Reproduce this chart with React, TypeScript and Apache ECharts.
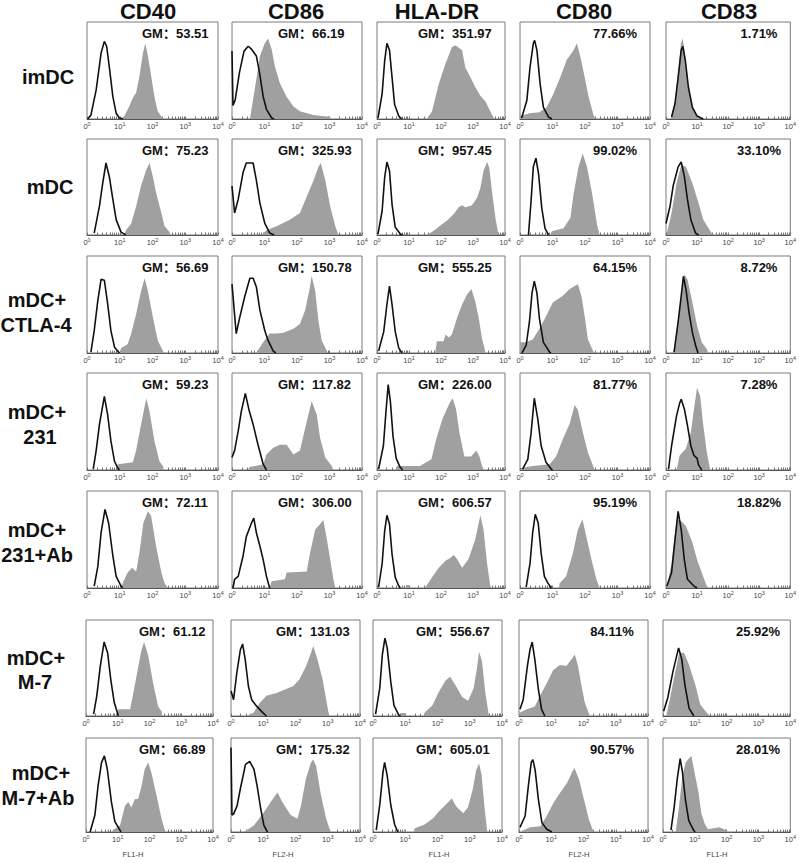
import React, { useEffect, useRef } from "react";
import * as echarts from "echarts";

// ---------- labels / values ----------
const markers = ["CD40", "CD86", "HLA-DR", "CD80", "CD83"];
const axisNames = ["FL1-H", "FL2-H", "FL1-H", "FL2-H", "FL1-H"];
const groupLabels = [
  ["imDC"],
  ["mDC"],
  ["mDC+", "CTLA-4"],
  ["mDC+", "231"],
  ["mDC+", "231+Ab"],
  ["mDC+", "M-7"],
  ["mDC+", "M-7+Ab"],
];
const tickBase = ["0", "10", "10", "10", "10"];
const tickExp = ["0", "1", "2", "3", "4"];

const gmCD40 = [53.51, 75.23, 56.69, 59.23, 72.11, 61.12, 66.89];
const gmCD86 = [66.19, 325.93, 150.78, 117.82, 306.0, 131.03, 175.32];
const gmHLADR = [351.97, 957.45, 555.25, 226.0, 606.57, 556.67, 605.01];
const pctCD80 = [77.66, 99.02, 64.15, 81.77, 95.19, 84.11, 90.57];
const pctCD83 = [1.71, 33.1, 8.72, 7.28, 18.82, 25.92, 28.01];

// ---------- histograms: [log10 intensity, % of panel height] ----------
// imDC
const imDC_CD40_iso = [[0.02,0],[0.12,4],[0.28,30],[0.43,68],[0.53,80],[0.6,75],[0.68,54],[0.79,23],[0.89,6],[0.99,1],[1.1,0]];
const imDC_CD40_fill = [[1.04,0],[1.14,3],[1.29,13],[1.4,22],[1.5,27],[1.6,44],[1.71,68],[1.78,78],[1.86,65],[1.96,44],[2.06,23],[2.16,8],[2.3,1],[2.32,0]];
const imDC_CD86_iso = [[0,70],[0.03,14],[0.1,20],[0.23,48],[0.37,70],[0.5,75],[0.6,72],[0.75,65],[0.85,47],[0.96,23],[1.06,10],[1.22,1],[1.3,0]];
const imDC_CD86_fill = [[0.55,0],[0.65,20],[0.86,65],[1.01,78],[1.11,83],[1.22,72],[1.32,54],[1.47,37],[1.68,23],[1.89,13],[2.09,8],[2.5,4],[3.02,2],[3.04,0]];
const imDC_HLA_iso = [[0.03,1],[0.16,26],[0.24,60],[0.31,78],[0.39,71],[0.47,43],[0.55,15],[0.68,3],[0.78,0]];
const imDC_HLA_fill = [[1.56,0],[1.72,8],[1.93,36],[2.14,57],[2.34,74],[2.45,76],[2.66,71],[2.76,53],[2.92,43],[3.07,33],[3.23,24],[3.39,18],[3.54,8],[3.65,1],[3.67,0]];
const imDC_CD80_iso = [[0.05,1],[0.21,19],[0.31,54],[0.41,78],[0.45,81],[0.52,71],[0.62,36],[0.72,12],[0.88,2],[0.98,0]];
const imDC_CD80_fill = [[0,3],[0.3,6],[0.6,7],[0.82,12],[1.03,26],[1.24,43],[1.44,61],[1.65,71],[1.75,78],[1.86,64],[2.01,40],[2.11,23],[2.27,3],[2.35,0]];
const imDC_CD83_iso = [[0.18,2],[0.29,16],[0.39,43],[0.49,71],[0.54,75],[0.62,61],[0.72,33],[0.85,12],[1.0,3],[1.2,0]];
const imDC_CD83_fill = [[0.15,0],[0.29,18],[0.39,47],[0.48,78],[0.54,83],[0.62,64],[0.72,33],[0.85,12],[1.0,3],[1.15,0]];
// mDC
const mDC_CD40_iso = [[0.22,2],[0.38,30],[0.48,54],[0.58,75],[0.68,61],[0.79,37],[0.89,16],[1.04,3],[1.19,0]];
const mDC_CD40_fill = [[1.14,0],[1.19,5],[1.35,12],[1.5,30],[1.65,51],[1.81,68],[1.91,75],[2.01,61],[2.11,44],[2.27,23],[2.37,9],[2.52,3],[2.54,0]];
const mDC_CD86_iso = [[0,51],[0.08,23],[0.19,37],[0.34,65],[0.44,75],[0.65,75],[0.75,57],[0.86,33],[1.01,12],[1.16,2],[1.3,0]];
const mDC_CD86_fill = [[0.91,0],[1.06,5],[1.37,9],[1.78,16],[2.09,23],[2.3,40],[2.51,57],[2.66,71],[2.73,75],[2.87,57],[3.02,30],[3.18,9],[3.25,2],[3.28,0]];
const mDC_HLA_iso = [[0.03,1],[0.16,25],[0.24,60],[0.31,76],[0.39,67],[0.47,32],[0.57,8],[0.73,1],[0.8,0]];
const mDC_HLA_fill = [[1.56,0],[1.72,3],[1.98,10],[2.19,15],[2.4,22],[2.55,29],[2.66,31],[2.76,29],[2.97,31],[3.13,39],[3.23,49],[3.33,67],[3.44,76],[3.51,70],[3.59,46],[3.7,18],[3.78,3],[3.8,0]];
const mDC_CD80_iso = [[0.26,0],[0.34,35],[0.41,71],[0.49,80],[0.57,64],[0.67,28],[0.77,7],[0.88,0]];
const mDC_CD80_fill = [[0.93,0],[0.98,4],[1.34,7],[1.55,18],[1.65,43],[1.8,71],[1.93,85],[2.06,71],[2.22,43],[2.37,11],[2.45,0]];
const mDC_CD83_iso = [[0,12],[0.13,30],[0.23,51],[0.39,71],[0.49,76],[0.59,61],[0.69,37],[0.8,16],[0.95,2],[1.05,0]];
const mDC_CD83_fill = [[0.03,2],[0.18,23],[0.34,54],[0.49,73],[0.64,71],[0.85,54],[1.05,33],[1.2,16],[1.41,5],[1.51,0]];
// mDC+CTLA-4
const ctla_CD40_iso = [[0.12,1],[0.22,23],[0.33,54],[0.43,76],[0.53,75],[0.63,51],[0.73,23],[0.84,6],[0.99,0]];
const ctla_CD40_fill = [[1.0,0],[1.04,5],[1.24,9],[1.35,20],[1.5,40],[1.65,64],[1.76,77],[1.86,64],[2.01,37],[2.16,13],[2.32,2],[2.34,0]];
const ctla_CD86_iso = [[0,71],[0.13,20],[0.24,37],[0.39,58],[0.55,77],[0.65,77],[0.75,68],[0.86,44],[1.01,23],[1.11,13],[1.27,2],[1.35,0]];
const ctla_CD86_fill = [[0.75,0],[0.96,11],[1.16,20],[1.37,20],[1.58,21],[1.89,25],[2.09,30],[2.25,44],[2.4,68],[2.45,80],[2.56,64],[2.66,33],[2.76,13],[2.92,2],[2.94,0]];
const ctla_HLA_iso = [[0.05,2],[0.21,22],[0.31,50],[0.39,69],[0.47,50],[0.57,22],[0.68,5],[0.78,0]];
const ctla_HLA_fill = [[1.82,0],[1.87,12],[2.08,12],[2.14,19],[2.24,16],[2.34,19],[2.5,36],[2.66,50],[2.81,60],[2.95,66],[3.07,53],[3.18,36],[3.28,15],[3.36,5],[3.39,0]];
const ctla_CD80_iso = [[0.06,0],[0.19,8],[0.29,32],[0.37,62],[0.44,74],[0.52,62],[0.6,35],[0.72,11],[0.91,1],[0.95,0]];
const ctla_CD80_fill = [[0,11],[0.19,11],[0.39,14],[0.6,25],[0.8,38],[1.01,52],[1.32,59],[1.53,66],[1.68,69],[1.78,71],[1.89,59],[1.99,38],[2.09,14],[2.25,2],[2.3,0]];
const ctla_CD83_iso = [[0.26,1],[0.39,32],[0.49,59],[0.56,79],[0.64,66],[0.74,42],[0.85,21],[0.95,8],[1.03,0]];
const ctla_CD83_fill = [[0.23,0],[0.34,18],[0.49,59],[0.59,81],[0.69,76],[0.85,52],[1.0,28],[1.15,11],[1.31,4],[1.36,0]];
// mDC+231
const c231_CD40_iso = [[0.19,1],[0.28,20],[0.38,47],[0.53,76],[0.63,57],[0.73,30],[0.84,9],[0.94,2],[0.99,0]];
const c231_CD40_fill = [[0.91,0],[0.94,6],[1.4,8],[1.5,20],[1.65,47],[1.81,74],[1.91,60],[2.06,30],[2.21,9],[2.32,4],[2.34,0]];
const c231_CD86_iso = [[0,13],[0.08,20],[0.19,40],[0.29,61],[0.41,79],[0.53,61],[0.65,47],[0.8,26],[0.96,6],[1.06,0]];
const c231_CD86_fill = [[0.49,0],[0.54,3],[0.96,6],[1.06,16],[1.27,23],[1.47,26],[1.68,26],[1.89,16],[2.09,20],[2.3,50],[2.45,71],[2.61,57],[2.71,33],[2.87,13],[3.07,4],[3.12,0]];
const c231_HLA_iso = [[0.05,1],[0.2,25],[0.28,60],[0.35,88],[0.42,70],[0.5,35],[0.6,12],[0.72,3],[0.8,0]];
const c231_HLA_fill = [[0.6,0],[0.62,4],[1.34,4],[1.7,11],[1.85,32],[2.05,53],[2.27,69],[2.36,74],[2.47,63],[2.58,38],[2.73,14],[2.94,14],[3.1,20],[3.2,14],[3.3,2],[3.32,0]];
const c231_CD80_iso = [[0.08,1],[0.24,11],[0.34,38],[0.44,74],[0.55,52],[0.65,25],[0.8,8],[0.96,1],[1.0,0]];
const c231_CD80_fill = [[0.03,2],[0.39,4],[0.91,6],[1.11,14],[1.32,32],[1.53,48],[1.68,67],[1.78,62],[1.94,38],[2.09,18],[2.25,4],[2.3,0]];
const c231_CD83_iso = [[0.08,1],[0.18,25],[0.34,56],[0.44,69],[0.49,73],[0.59,63],[0.69,46],[0.8,25],[0.9,15],[1.0,12],[1.05,5],[1.15,0]];
const c231_CD83_fill = [[0.34,0],[0.44,15],[0.64,22],[0.8,39],[0.9,63],[1.0,85],[1.1,76],[1.2,46],[1.31,19],[1.41,2],[1.43,0]];
// mDC+231+Ab
const c231Ab_CD40_iso = [[0.22,2],[0.33,22],[0.43,57],[0.55,81],[0.66,67],[0.79,33],[0.89,12],[1.04,2],[1.09,0]];
const c231Ab_CD40_fill = [[1.04,0],[1.09,5],[1.24,16],[1.38,21],[1.5,17],[1.6,36],[1.72,67],[1.86,79],[1.96,74],[2.11,43],[2.27,16],[2.37,5],[2.47,0]];
const c231Ab_CD86_iso = [[0.03,0],[0.08,9],[0.19,12],[0.24,19],[0.34,33],[0.44,53],[0.6,67],[0.67,72],[0.75,57],[0.86,43],[0.96,29],[1.06,12],[1.16,0]];
const c231Ab_CD86_fill = [[1.16,0],[1.22,7],[1.63,9],[1.68,16],[2.3,17],[2.4,36],[2.56,60],[2.71,66],[2.81,70],[2.92,50],[3.12,9],[3.18,0]];
const c231Ab_HLA_iso = [[0.05,1],[0.16,25],[0.24,59],[0.31,75],[0.39,66],[0.47,35],[0.57,11],[0.68,2],[0.73,0]];
const c231Ab_HLA_fill = [[0.9,0],[0.92,3],[1.0,3],[1.02,0],[1.49,0],[1.56,3],[1.72,11],[1.93,21],[2.14,28],[2.29,31],[2.4,34],[2.5,30],[2.66,21],[2.86,30],[3.07,50],[3.23,75],[3.33,60],[3.44,25],[3.54,2],[3.57,0]];
const c231Ab_CD80_iso = [[0.19,1],[0.31,26],[0.39,57],[0.47,76],[0.56,67],[0.65,36],[0.75,12],[0.86,5],[0.96,0]];
const c231Ab_CD80_fill = [[1.2,0],[1.22,5],[1.42,12],[1.63,36],[1.78,60],[1.92,71],[2.04,53],[2.2,29],[2.35,9],[2.45,0]];
const c231Ab_CD83_iso = [[0.03,2],[0.18,16],[0.29,50],[0.39,79],[0.49,60],[0.59,29],[0.69,9],[0.9,2],[1.0,0]];
const c231Ab_CD83_fill = [[0.03,0],[0.18,26],[0.34,71],[0.49,69],[0.64,64],[0.85,47],[1.0,29],[1.15,16],[1.31,2],[1.36,0]];
// mDC+M-7
const m7_CD40_iso = [[0.24,2],[0.34,21],[0.45,52],[0.57,77],[0.68,66],[0.78,38],[0.89,14],[1.02,0]];
const m7_CD40_fill = [[0.97,0],[1.02,7],[1.39,7],[1.49,24],[1.65,52],[1.75,69],[1.83,77],[1.96,63],[2.11,35],[2.27,10],[2.38,5],[2.4,0]];
const m7_CD86_iso = [[0,26],[0.08,17],[0.18,45],[0.29,69],[0.36,75],[0.44,59],[0.54,31],[0.64,17],[0.8,10],[1.0,3],[1.1,0]];
const m7_CD86_fill = [[0.49,0],[0.69,3],[0.9,14],[1.1,21],[1.41,24],[1.71,28],[1.92,31],[2.12,38],[2.33,52],[2.48,66],[2.55,73],[2.68,59],[2.84,38],[2.99,10],[3.04,0]];
const m7_HLA_iso = [[0.08,2],[0.21,29],[0.29,64],[0.37,81],[0.44,71],[0.55,36],[0.65,11],[0.8,1],[0.85,0]];
const m7_HLA_fill = [[0.85,0],[0.87,3],[1.0,3],[1.02,0],[1.58,0],[1.61,4],[1.84,11],[2.04,25],[2.25,37],[2.39,41],[2.56,32],[2.76,20],[2.95,16],[3.12,29],[3.22,49],[3.29,67],[3.38,57],[3.48,25],[3.59,1],[3.61,0]];
const m7_CD80_iso = [[0.03,7],[0.13,17],[0.26,52],[0.34,69],[0.41,77],[0.49,59],[0.6,28],[0.7,7],[0.8,0]];
const m7_CD80_fill = [[0,3],[0.24,7],[0.49,10],[0.65,21],[0.86,34],[1.06,48],[1.27,53],[1.47,52],[1.63,59],[1.73,64],[1.83,52],[1.94,31],[2.04,14],[2.14,5],[2.2,0]];
const m7_CD83_iso = [[0.02,5],[0.15,19],[0.31,46],[0.49,71],[0.59,59],[0.69,32],[0.82,8],[0.97,0]];
const m7_CD83_fill = [[0.1,0],[0.2,15],[0.36,42],[0.51,66],[0.66,66],[0.82,53],[1.02,32],[1.17,12],[1.38,3],[1.48,0]];
// mDC+M-7+Ab
const m7Ab_CD40_iso = [[0.13,0],[0.28,18],[0.38,49],[0.49,74],[0.58,81],[0.67,67],[0.8,32],[0.91,11],[1.07,2],[1.1,0]];
const m7Ab_CD40_fill = [[0.8,0],[0.86,2],[1.07,7],[1.23,28],[1.33,32],[1.43,26],[1.54,35],[1.64,35],[1.75,49],[1.85,67],[1.96,74],[2.06,63],[2.22,39],[2.38,14],[2.48,2],[2.51,0]];
const m7Ab_CD86_iso = [[0,90],[0.03,18],[0.08,19],[0.19,28],[0.29,46],[0.45,72],[0.58,75],[0.71,67],[0.81,49],[0.92,25],[1.02,7],[1.13,0]];
const m7Ab_CD86_fill = [[0.4,0],[0.71,7],[1.02,21],[1.23,32],[1.44,42],[1.59,32],[1.85,18],[2.06,14],[2.17,28],[2.32,56],[2.48,74],[2.55,77],[2.64,70],[2.79,39],[2.95,14],[3.05,4],[3.1,0]];
const m7Ab_HLA_iso = [[0.1,2],[0.21,29],[0.31,64],[0.36,74],[0.44,60],[0.55,29],[0.67,8],[0.77,0]];
const m7Ab_HLA_fill = [[0.95,0],[0.97,2],[1.0,2],[1.02,0],[1.25,0],[1.3,4],[1.6,8],[1.87,15],[2.05,22],[2.22,28],[2.37,33],[2.44,36],[2.58,27],[2.8,20],[2.94,26],[3.09,45],[3.2,66],[3.29,73],[3.37,60],[3.45,29],[3.54,1],[3.56,0]];
const m7Ab_CD80_iso = [[0.03,5],[0.19,17],[0.29,49],[0.38,74],[0.43,77],[0.5,66],[0.6,35],[0.71,10],[0.86,3],[1.02,0]];
const m7Ab_CD80_fill = [[0.08,1],[0.34,5],[0.66,6],[0.86,17],[1.07,31],[1.28,42],[1.49,52],[1.65,64],[1.72,68],[1.86,56],[2.01,35],[2.17,13],[2.3,1],[2.32,0]];
const m7Ab_CD83_iso = [[0.25,2],[0.35,26],[0.45,57],[0.54,78],[0.61,64],[0.71,33],[0.81,12],[0.96,2],[1.01,0]];
const m7Ab_CD83_fill = [[0.4,0],[0.51,29],[0.61,60],[0.71,74],[0.81,78],[0.89,81],[1.01,60],[1.11,43],[1.21,19],[1.31,9],[1.41,3],[1.77,5],[1.97,2],[2.02,0]];

const HIST = [
  [[imDC_CD40_iso, imDC_CD40_fill], [imDC_CD86_iso, imDC_CD86_fill], [imDC_HLA_iso, imDC_HLA_fill], [imDC_CD80_iso, imDC_CD80_fill], [imDC_CD83_iso, imDC_CD83_fill]],
  [[mDC_CD40_iso, mDC_CD40_fill], [mDC_CD86_iso, mDC_CD86_fill], [mDC_HLA_iso, mDC_HLA_fill], [mDC_CD80_iso, mDC_CD80_fill], [mDC_CD83_iso, mDC_CD83_fill]],
  [[ctla_CD40_iso, ctla_CD40_fill], [ctla_CD86_iso, ctla_CD86_fill], [ctla_HLA_iso, ctla_HLA_fill], [ctla_CD80_iso, ctla_CD80_fill], [ctla_CD83_iso, ctla_CD83_fill]],
  [[c231_CD40_iso, c231_CD40_fill], [c231_CD86_iso, c231_CD86_fill], [c231_HLA_iso, c231_HLA_fill], [c231_CD80_iso, c231_CD80_fill], [c231_CD83_iso, c231_CD83_fill]],
  [[c231Ab_CD40_iso, c231Ab_CD40_fill], [c231Ab_CD86_iso, c231Ab_CD86_fill], [c231Ab_HLA_iso, c231Ab_HLA_fill], [c231Ab_CD80_iso, c231Ab_CD80_fill], [c231Ab_CD83_iso, c231Ab_CD83_fill]],
  [[m7_CD40_iso, m7_CD40_fill], [m7_CD86_iso, m7_CD86_fill], [m7_HLA_iso, m7_HLA_fill], [m7_CD80_iso, m7_CD80_fill], [m7_CD83_iso, m7_CD83_fill]],
  [[m7Ab_CD40_iso, m7Ab_CD40_fill], [m7Ab_CD86_iso, m7Ab_CD86_fill], [m7Ab_HLA_iso, m7Ab_HLA_fill], [m7Ab_CD80_iso, m7Ab_CD80_fill], [m7Ab_CD83_iso, m7Ab_CD83_fill]],
];

// ---------- layout ----------
const FONT = '"Liberation Sans", Arial, "Noto Sans CJK SC", sans-serif';
const rowTop = [22, 139, 256, 373, 491, 620, 738];
const rowH = [97, 96, 97, 97, 97, 96, 94];
const colLeftA = [87, 232, 377, 520, 666];
const colWA = [131, 130, 128, 130, 131];
const colLeftB = [86, 231, 373, 519, 663];
const colWB = [127, 129, 129, 129, 132];
const titleX = [148, 296, 437, 584, 729];
const labelX = [[48], [50], [37, 36], [37, 40], [37, 37], [36, 35], [41, 38]];
const labelY = [[77], [187], [300, 325], [412, 437], [530, 555], [658, 682], [773, 798]];
const gmX = [[142, 278, 418], [139, 276, 416]];
const pctX = [[615, 759], [612, 758]];
const axisNameX = [133, 283, 439, 579, 717];

const tickPositions: number[] = [];
for (let d = 0; d < 4; d++) {
  tickPositions.push(d);
  for (let k = 2; k <= 9; k++) tickPositions.push(d + Math.log10(k));
}
tickPositions.push(4);

function buildOption() {
  const grid: any[] = [];
  const xAxis: any[] = [];
  const yAxis: any[] = [];
  const series: any[] = [];
  const graphic: any[] = [];

  const txt = (text: string, x: number, y: number, size: number, align: string, bold = true, color = "#111") => ({
    type: "text",
    x,
    y,
    z: 100,
    silent: true,
    style: {
      text,
      font: `${bold ? "bold " : ""}${size}px ${FONT}`,
      fill: color,
      align,
      textAlign: align,
      verticalAlign: "middle",
      textVerticalAlign: "middle",
    },
  });

  markers.forEach((m, c) => graphic.push(txt(m, titleX[c], 11, 22, "center")));
  groupLabels.forEach((lines, r) =>
    lines.forEach((l, k) => graphic.push(txt(l, labelX[r][k], labelY[r][k], 20, "center")))
  );

  for (let r = 0; r < 7; r++) {
    const late = r >= 5 ? 1 : 0;
    const lefts = late ? colLeftB : colLeftA;
    const widths = late ? colWB : colWA;
    for (let c = 0; c < 5; c++) {
      const i = r * 5 + c;
      grid.push({
        left: lefts[c],
        top: rowTop[r],
        width: widths[c],
        height: rowH[r],
        show: true,
        borderColor: "#7a7a7a",
        borderWidth: 1,
        backgroundColor: "#fff",
      });
      xAxis.push({
        gridIndex: i,
        type: "value",
        min: 0,
        max: 4,
        interval: 1,
        axisLine: { show: true, onZero: false, lineStyle: { color: "#555", width: 1 } },
        axisTick: { show: true, inside: true, length: 2.5, customValues: tickPositions, lineStyle: { color: "#777", width: 1 } },
        axisLabel: {
          show: true,
          interval: 0,
          showMinLabel: true,
          showMaxLabel: true,
          hideOverlap: false,
          margin: 2,
          color: "#444",
          fontFamily: FONT,
          formatter: (v: number) => {
            const k = Math.round(v);
            return `{b|${tickBase[k]}}{s|${tickExp[k]}}`;
          },
          rich: {
            b: { fontSize: 7.5, color: "#444", fontFamily: FONT, lineHeight: 9, verticalAlign: "bottom" },
            s: { fontSize: 5.5, color: "#444", fontFamily: FONT, lineHeight: 9, verticalAlign: "top", padding: [0, 0, 3, 0] },
          },
        },
        splitLine: { show: false },
      });
      yAxis.push({ gridIndex: i, type: "value", min: 0, max: 100, show: false });
      const [iso, fill] = HIST[r][c];
      series.push({
        type: "line",
        xAxisIndex: i,
        yAxisIndex: i,
        data: fill,
        symbol: "none",
        silent: true,
        z: 2,
        lineStyle: { width: 0, color: "#a0a0a0" },
        areaStyle: { color: "#a0a0a0", opacity: 1 },
      });
      series.push({
        type: "line",
        xAxisIndex: i,
        yAxisIndex: i,
        data: iso,
        symbol: "none",
        silent: true,
        z: 3,
        lineStyle: { width: 1.6, color: "#111" },
      });

      const ty = rowTop[r] + 11.5;
      if (c === 0) graphic.push(txt(`GM：${gmCD40[r].toFixed(2)}`, gmX[late][0], ty, 13, "left"));
      if (c === 1) graphic.push(txt(`GM：${gmCD86[r].toFixed(2)}`, gmX[late][1], ty, 13, "left"));
      if (c === 2) graphic.push(txt(`GM：${gmHLADR[r].toFixed(2)}`, gmX[late][2], ty, 13, "left"));
      if (c === 3) graphic.push(txt(`${pctCD80[r].toFixed(2)}%`, pctX[late][0], ty, 13, "center"));
      if (c === 4) graphic.push(txt(`${pctCD83[r].toFixed(2)}%`, pctX[late][1], ty, 13, "center"));
    }
  }

  axisNames.forEach((n, c) => graphic.push(txt(n, axisNameX[c], 854, 7.5, "center", false, "#444")));

  return { animation: false, backgroundColor: "#fff", grid, xAxis, yAxis, series, graphic };
}

export default function App() {
  const ref = useRef<HTMLDivElement>(null);
  useEffect(() => {
    if (!ref.current) return;
    const chart = echarts.init(ref.current, undefined, { renderer: "svg" });
    chart.setOption(buildOption() as any);
    return () => chart.dispose();
  }, []);
  return <div ref={ref} style={{ position: "absolute", left: 0, top: 0, width: 799, height: 863 }} />;
}
